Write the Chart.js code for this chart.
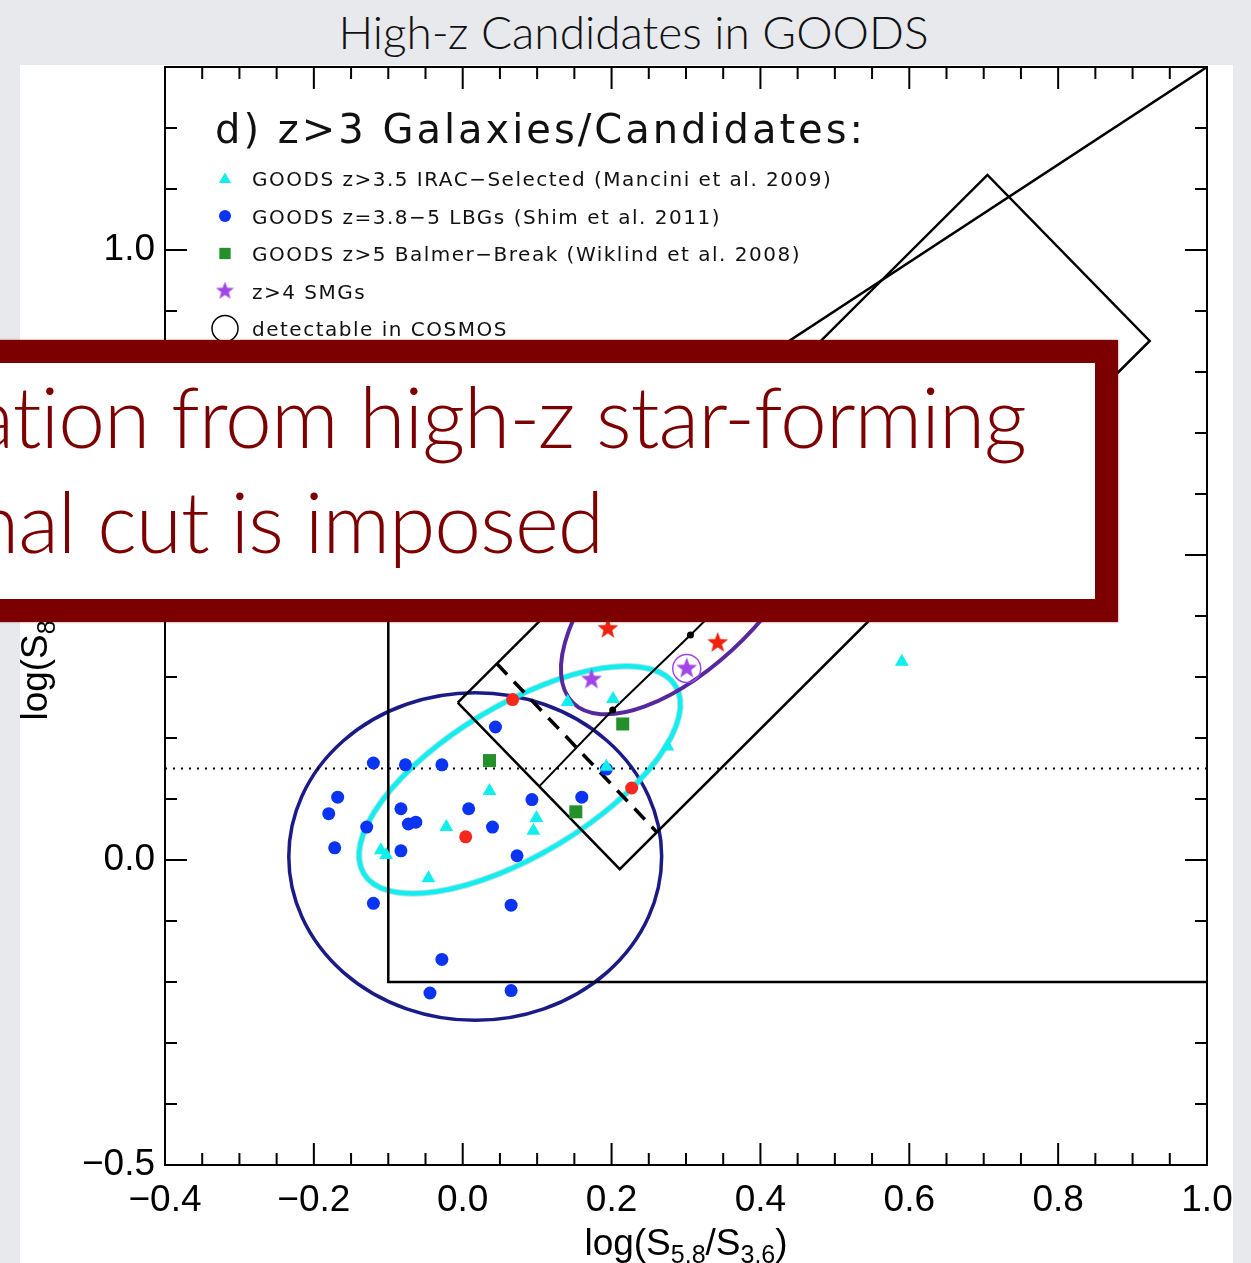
<!DOCTYPE html>
<html>
<head>
<meta charset="utf-8">
<script src="https://cdn.jsdelivr.net/npm/chart.js@4/dist/chart.umd.min.js"></script>
<style>
  html, body { margin: 0; padding: 0; }
  body { width: 1251px; height: 1263px; background: #e8e9ed; position: relative; overflow: hidden; }
  #title { position: absolute; left: 0; top: 9px; width: 1267px; text-align: center;
           font-family: Lato, sans-serif; font-weight: 300; font-size: 46px; line-height: 46px; color: #111; }
  #panel { position: absolute; left: 20px; top: 65px; width: 1213px; height: 1198px; background: #fff; }
  #cv { position: absolute; left: 0; top: 0; }
  #callout { position: absolute; left: -40px; top: 340px; width: 1158px; height: 282px; box-sizing: border-box;
             border: 23px solid #7d0000; background: #fff; box-shadow: 0 0 2px rgba(125,0,0,0.6); }
  .say { position: absolute; white-space: nowrap; color: #7d0000; font-family: Lato, sans-serif;
         font-weight: 300; font-size: 84px; line-height: 84px; letter-spacing: -1px; text-align: right; }
  #say1 { right: 225px; top: 374px; }
  #say2 { right: 648px; top: 479px; }
</style>
</head>
<body>
<div id="title">High-z Candidates in GOODS</div>
<div id="panel"></div>
<canvas id="cv" width="1251" height="1263"></canvas>
<div id="callout"></div>
<div class="say" id="say1">ation from high-z star-forming</div>
<div class="say" id="say2">nal cut is imposed</div>

<script>
// ---- axis ranges / tick spacing ----
const xRange = [-0.4, 1.0];
const yRange = [-0.5, 1.3];
const xStep = 0.05, xLabelEvery = 0.2;
const yStep = 0.1, yLabelEvery = 0.5;

// ---- GOODS z=3.8-5 LBGs (blue) ----
const lbgX = [-0.120, -0.077, -0.028, 0.044, -0.168, -0.180, -0.129, -0.083, -0.073, -0.063, 0.008, 0.040,
              0.093, 0.160, -0.172, -0.083, 0.073, 0.193, -0.120, 0.065, -0.028, -0.044, 0.065];
const lbgY = [0.159, 0.156, 0.156, 0.218, 0.103, 0.076, 0.054, 0.084, 0.059, 0.062, 0.084, 0.054,
              0.099, 0.103, 0.020, 0.015, 0.007, 0.149, -0.071, -0.074, -0.163, -0.218, -0.214];
// LBGs marked in red
const lbgRedX = [0.067, 0.004, 0.227];
const lbgRedY = [0.263, 0.038, 0.118];
// ---- GOODS z>3.5 IRAC-selected (cyan triangles) ----
const iracX = [0.036, -0.022, 0.099, 0.095, -0.110, -0.103, -0.046, 0.193, 0.202, 0.141, 0.275, 0.590];
const iracY = [0.113, 0.054, 0.069, 0.048, 0.016, 0.008, -0.030, 0.153, 0.264, 0.259, 0.186, 0.325];
// ---- GOODS z>5 Balmer-break (green squares) ----
const bbX = [0.036, 0.215, 0.152];
const bbY = [0.163, 0.223, 0.079];
// ---- z>4 SMGs (purple stars), the COSMOS-detectable one, and red stars ----
const smgX = [0.173, 0.301];
const smgY = [0.296, 0.314];
const cosmosX = [0.301];
const cosmosY = [0.314];
const smgRedX = [0.195, 0.3425];
const smgRedY = [0.379, 0.356];

// ---- selection lines ----
const lacyX = [1.0, -0.1, -0.1, 1.0];
const lacyY = [-0.2, -0.2, 0.42, 1.3];
const boxX = [-0.0067, 0.705, 0.923, 0.211, -0.0067];
const boxY = [0.258, 1.123, 0.851, -0.015, 0.258];
const trackX = [0.1034, 0.2015, 0.306, 0.455];
const trackY = [0.1215, 0.246, 0.369, 0.549];
const cutX = [0.0457, 0.2606];
const cutY = [0.322, 0.046];
const flatX = [-0.4, 1.0];
const flatY = [0.15, 0.15];

// ---- population ellipses: centre, semi-axes (x units, y units), screen tilt in degrees ----
const lbgEllipse = { cx: 0.0168, cy: 0.0057, rx: 0.2505, ry: 0.2685, tilt: 0 };
const iracEllipse = { cx: 0.0766, cy: 0.1314, rx: 0.2445, ry: 0.123, tilt: -31 };
const smgEllipse = { cx: 0.3045, cy: 0.4493, rx: 0.2216, ry: 0.1245, tilt: -45 };

// ---- legend text ----
const legendTitle = 'd) z>3 Galaxies/Candidates:';
const legendLabels = [
  'GOODS z>3.5 IRAC\u2212Selected (Mancini et al. 2009)',
  'GOODS z=3.8\u22125 LBGs (Shim et al. 2011)',
  'GOODS z>5 Balmer\u2212Break (Wiklind et al. 2008)',
  'z>4 SMGs',
  'detectable in COSMOS'
];

const C = {
  blue: '#0a34f2', red: '#f5281e', cyan: '#12eeee', green: '#23902a',
  purple: '#a245e6', redStar: '#f0200f', navy: '#1b1b88', violet: '#56289c'
};

function pts(xs, ys) { return xs.map((x, i) => ({ x: x, y: ys[i] })); }

function starCanvas(color, size) {
  const c = document.createElement('canvas');
  c.width = c.height = size;
  const g = c.getContext('2d');
  const R = size / 2, r = R * 0.42;
  g.fillStyle = color;
  g.beginPath();
  for (let i = 0; i < 10; i++) {
    const a = -Math.PI / 2 + i * Math.PI / 5;
    const rr = i % 2 ? r : R;
    g.lineTo(R + rr * Math.cos(a), R + rr * Math.sin(a));
  }
  g.closePath();
  g.fill();
  return c;
}
const purpleStar = starCanvas(C.purple, 22);
const redStar = starCanvas(C.redStar, 22);
const purpleStarSmall = starCanvas(C.purple, 19);

function isMultiple(v, step) {
  const q = v / step;
  return Math.abs(q - Math.round(q)) < 1e-6;
}
function fmt(v) { return (Math.round(v * 10) / 10).toFixed(1).replace('-', '\u2212'); }

function drawSubText(ctx, parts, x, y, big, small, drop) {
  let w = 0;
  parts.forEach(p => { ctx.font = (p.sub ? small : big) + 'px "Liberation Sans"'; w += ctx.measureText(p.t).width; });
  let cx = x - w / 2;
  parts.forEach(p => {
    ctx.font = (p.sub ? small : big) + 'px "Liberation Sans"';
    ctx.fillText(p.t, cx, y + (p.sub ? drop : 0));
    cx += ctx.measureText(p.t).width;
  });
}

function strokeEllipse(ctx, xs, ys, e, color, width) {
  const px = xs.getPixelForValue(e.cx), py = ys.getPixelForValue(e.cy);
  const rx = Math.abs(xs.getPixelForValue(e.cx + e.rx) - px);
  const ry = Math.abs(ys.getPixelForValue(e.cy + e.ry) - py);
  ctx.beginPath();
  ctx.ellipse(px, py, rx, ry, e.tilt * Math.PI / 180, 0, Math.PI * 2);
  ctx.strokeStyle = color;
  ctx.lineWidth = width;
  ctx.stroke();
}

const framePlugin = {
  id: 'idlFrame',
  beforeDatasetsDraw(chart) {
    const ctx = chart.ctx, xs = chart.scales.x, ys = chart.scales.y;
    ctx.save();
    strokeEllipse(ctx, xs, ys, lbgEllipse, C.navy, 3.5);
    strokeEllipse(ctx, xs, ys, iracEllipse, 'rgba(120,200,205,0.55)', 6.5);
    strokeEllipse(ctx, xs, ys, iracEllipse, C.cyan, 4.5);
    strokeEllipse(ctx, xs, ys, smgEllipse, C.violet, 4);
    ctx.restore();
  },
  afterDatasetsDraw(chart) {
    const ctx = chart.ctx, a = chart.chartArea, xs = chart.scales.x, ys = chart.scales.y;
    ctx.save();
    ctx.strokeStyle = '#000';
    ctx.lineWidth = 2;
    ctx.strokeRect(a.left, a.top, a.right - a.left, a.bottom - a.top);
    // inward tick marks on all four sides
    ctx.beginPath();
    xs.ticks.forEach(t => {
      const p = xs.getPixelForValue(t.value);
      if (p <= a.left + 1 || p >= a.right - 1) return;
      const len = isMultiple(t.value, xLabelEvery) ? 22 : 12;
      ctx.moveTo(p, a.bottom); ctx.lineTo(p, a.bottom - len);
      ctx.moveTo(p, a.top); ctx.lineTo(p, a.top + len);
    });
    ys.ticks.forEach(t => {
      const p = ys.getPixelForValue(t.value);
      if (p <= a.top + 1 || p >= a.bottom - 1) return;
      const len = isMultiple(t.value, yLabelEvery) ? 22 : 12;
      ctx.moveTo(a.left, p); ctx.lineTo(a.left + len, p);
      ctx.moveTo(a.right, p); ctx.lineTo(a.right - len, p);
    });
    ctx.stroke();

    // axis titles
    ctx.fillStyle = '#000';
    ctx.textBaseline = 'alphabetic';
    ctx.textAlign = 'left';
    drawSubText(ctx, [{ t: 'log(S' }, { t: '5.8', sub: 1 }, { t: '/S' }, { t: '3.6', sub: 1 }, { t: ')' }],
      (a.left + a.right) / 2, 1255, 37, 25, 8);
    ctx.save();
    ctx.translate(47, (a.top + a.bottom) / 2 + 3);
    ctx.rotate(-Math.PI / 2);
    drawSubText(ctx, [{ t: 'log(S' }, { t: '8.0', sub: 1 }, { t: '/S' }, { t: '4.5', sub: 1 }, { t: ')' }],
      0, 0, 37, 25, 8);
    ctx.restore();

    // legend
    ctx.fillStyle = '#111';
    ctx.font = '40px "DejaVu Sans"';
    ctx.letterSpacing = '3px';
    ctx.fillText(legendTitle, 215, 143);
    ctx.font = '20px "DejaVu Sans"';
    ctx.letterSpacing = '1.5px';
    const rowY = [178.5, 216, 253.5, 291, 328.5];
    legendLabels.forEach((s, i) => ctx.fillText(s, 252, rowY[i] + 7.5));
    ctx.letterSpacing = '0px';
    const mx = 225;
    ctx.fillStyle = C.cyan;
    Chart.helpers.drawPoint(ctx, { pointStyle: 'triangle', radius: 7, rotation: 0, borderWidth: 0 }, mx, rowY[0] + 1);
    ctx.fillStyle = C.blue;
    Chart.helpers.drawPoint(ctx, { pointStyle: 'circle', radius: 6, rotation: 0, borderWidth: 0 }, mx, rowY[1]);
    ctx.fillStyle = C.green;
    Chart.helpers.drawPoint(ctx, { pointStyle: 'rect', radius: 8, rotation: 0, borderWidth: 0 }, mx, rowY[2]);
    Chart.helpers.drawPoint(ctx, { pointStyle: purpleStarSmall, radius: 9, rotation: 0, borderWidth: 0 }, mx, rowY[3]);
    ctx.beginPath();
    ctx.arc(mx, rowY[4], 13, 0, Math.PI * 2);
    ctx.strokeStyle = '#000';
    ctx.lineWidth = 1.5;
    ctx.stroke();
    ctx.restore();
  }
};

function lineSet(xs, ys, width, dash, order) {
  return {
    data: pts(xs, ys), showLine: true, fill: false, borderColor: '#000', backgroundColor: '#000',
    borderWidth: width, borderDash: dash || [], pointRadius: 0, tension: 0, order: order || 20
  };
}

const trackLine = lineSet(trackX, trackY, 2, null, 19);
trackLine.pointRadius = [0, 2.5, 2.5, 0];

new Chart(document.getElementById('cv'), {
  type: 'scatter',
  data: {
    datasets: [
      { data: pts(cosmosX, cosmosY), pointStyle: 'circle', pointRadius: 14, backgroundColor: 'rgba(0,0,0,0)',
        borderColor: C.purple, pointBorderWidth: 1.5, order: 1 },
      { data: pts(smgX, smgY), pointStyle: purpleStar, pointRadius: 11, order: 2 },
      { data: pts(smgRedX, smgRedY), pointStyle: redStar, pointRadius: 11, order: 2 },
      { data: pts(bbX, bbY), pointStyle: 'rect', pointRadius: 9.2, backgroundColor: C.green, borderWidth: 0, order: 3 },
      { data: pts(iracX, iracY), pointStyle: 'triangle', pointRadius: 8, backgroundColor: C.cyan, borderWidth: 0, order: 4 },
      { data: pts(lbgRedX, lbgRedY), pointStyle: 'circle', pointRadius: 6.5, backgroundColor: C.red, borderWidth: 0, order: 5 },
      { data: pts(lbgX, lbgY), pointStyle: 'circle', pointRadius: 6.5, backgroundColor: C.blue, borderWidth: 0, order: 6 },
      lineSet(lacyX, lacyY, 2.5),
      lineSet(boxX, boxY, 2.5),
      trackLine,
      lineSet(cutX, cutY, 3.5, [15, 10]),
      lineSet(flatX, flatY, 2, [2, 6])
    ]
  },
  options: {
    responsive: false,
    animation: false,
    devicePixelRatio: 1,
    layout: { padding: { left: 0, top: 67, right: 44, bottom: 0 } },
    plugins: { legend: { display: false }, tooltip: { enabled: false } },
    elements: { point: { hoverRadius: 0 } },
    scales: {
      x: {
        type: 'linear', position: 'bottom', min: xRange[0], max: xRange[1],
        afterFit(s) { s.height = 98; },
        grid: { display: false, drawTicks: false }, border: { display: false },
        ticks: {
          stepSize: xStep, autoSkip: false, maxRotation: 0, minRotation: 0, padding: 14, color: '#000',
          font: { family: 'Liberation Sans', size: 37 },
          callback: v => isMultiple(v, xLabelEvery) ? fmt(v) : ''
        }
      },
      y: {
        type: 'linear', min: yRange[0], max: yRange[1],
        afterFit(s) { s.width = 165; },
        grid: { display: false, drawTicks: false }, border: { display: false },
        ticks: {
          stepSize: yStep, autoSkip: false, padding: 10, color: '#000',
          font: { family: 'Liberation Sans', size: 37 },
          callback: v => isMultiple(v, yLabelEvery) ? fmt(v) : ''
        }
      }
    }
  },
  plugins: [framePlugin]
});
</script>
</body>
</html>
